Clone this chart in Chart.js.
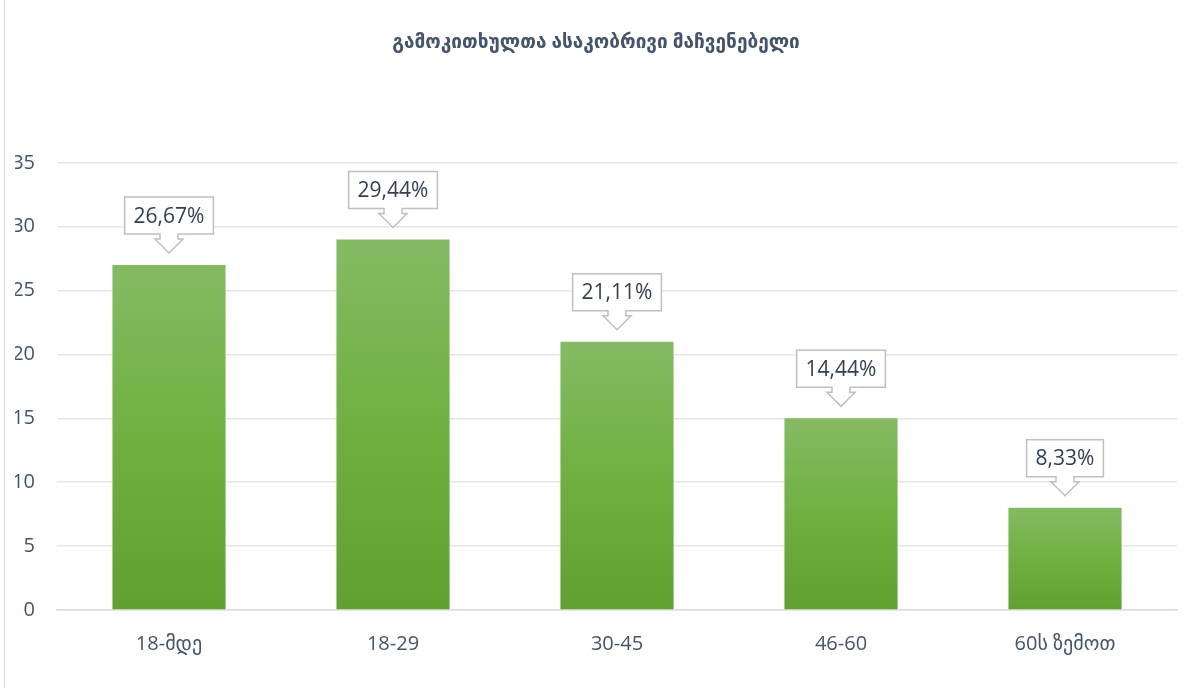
<!DOCTYPE html>
<html>
<head>
<meta charset="utf-8">
<script src="https://cdn.jsdelivr.net/npm/chart.js@4.4.1/dist/chart.umd.min.js"></script>
<style>
  html, body { margin: 0; padding: 0; background: #ffffff; }
</style>
</head>
<body>
<canvas id="ageChart" width="1203" height="688"></canvas>
<script>
const chartTitle = 'გამოკითხულთა ასაკობრივი მაჩვენებელი';
const ageGroups = ['18-მდე', '18-29', '30-45', '46-60', '60ს ზემოთ'];
const respondents = [27, 29, 21, 15, 8];
const shareLabels = ['26,67%', '29,44%', '21,11%', '14,44%', '8,33%'];
const yTicks = [0, 5, 10, 15, 20, 25, 30, 35];

const fontStack = "'Open Sans', 'DejaVu Sans', sans-serif";

// per-bar vertical gradient, light on top, darker at the base
function barGradient(context) {
    const chart = context.chart;
    const yScale = chart.scales.y;
    if (!chart.chartArea || !yScale) return '#70ad47';
    const top = yScale.getPixelForValue(context.raw);
    const base = yScale.getPixelForValue(0);
    const g = chart.ctx.createLinearGradient(0, top, 0, base);
    g.addColorStop(0, '#85ba63');
    g.addColorStop(0.5, '#70b041');
    g.addColorStop(1, '#60a030');
    return g;
}

const calloutPlugin = {
    id: 'callouts',
    afterDatasetsDraw(chart) {
        const ctx = chart.ctx;
        const meta = chart.getDatasetMeta(0);
        ctx.save();
        ctx.font = '21px ' + fontStack;
        meta.data.forEach((bar, i) => {
            const text = shareLabels[i];
            const x = bar.x;
            const boxBottom = bar.y - 31;
            const boxH = 37;
            const boxW = ctx.measureText(text).width + 18;
            const left = x - boxW / 2, right = x + boxW / 2, top = boxBottom - boxH;
            ctx.beginPath();
            ctx.moveTo(left, top);
            ctx.lineTo(right, top);
            ctx.lineTo(right, boxBottom);
            ctx.lineTo(x + 9, boxBottom);
            ctx.lineTo(x + 9, boxBottom + 5);
            ctx.lineTo(x + 14, boxBottom + 5);
            ctx.lineTo(x, boxBottom + 19);
            ctx.lineTo(x - 14, boxBottom + 5);
            ctx.lineTo(x - 9, boxBottom + 5);
            ctx.lineTo(x - 9, boxBottom);
            ctx.lineTo(left, boxBottom);
            ctx.closePath();
            ctx.fillStyle = '#ffffff';
            ctx.fill();
            ctx.lineWidth = 1.5;
            ctx.strokeStyle = '#bfbfbf';
            ctx.stroke();
            ctx.fillStyle = '#333f50';
            ctx.textAlign = 'center';
            ctx.textBaseline = 'middle';
            ctx.fillText(text, x, top + boxH / 2 + 1);
        });
        ctx.restore();
    },
    afterDraw(chart) {
        const ctx = chart.ctx;
        ctx.save();
        ctx.strokeStyle = '#d9d9d9';
        ctx.lineWidth = 1;
        ctx.beginPath();
        ctx.moveTo(4.5, 0);
        ctx.lineTo(4.5, chart.height);
        ctx.stroke();
        ctx.restore();
    }
};

new Chart(document.getElementById('ageChart'), {
    type: 'bar',
    data: {
        labels: ageGroups,
        datasets: [{
            label: chartTitle,
            data: respondents,
            backgroundColor: barGradient,
            borderWidth: 0,
            categoryPercentage: 1,
            barPercentage: 0.505
        }]
    },
    options: {
        responsive: false,
        animation: false,
        layout: { padding: { left: 15, right: 26, top: 0, bottom: 33 } },
        plugins: {
            legend: { display: false },
            tooltip: { enabled: false },
            title: {
                display: true,
                text: chartTitle,
                color: '#44546a',
                font: { family: fontStack, size: 19, weight: 'bold' },
                padding: { top: 31, bottom: 109 }
            }
        },
        scales: {
            x: {
                grid: { display: false },
                border: { color: '#d9dde3', width: 1.5 },
                afterFit(scale) { scale.height = 45; },
                ticks: {
                    color: '#44546a',
                    font: { family: fontStack, size: 20 },
                    padding: 14
                }
            },
            y: {
                min: 0,
                max: 35,
                afterBuildTicks(scale) {
                    scale.ticks = yTicks.map(v => ({ value: v }));
                },
                afterFit(scale) { scale.width = 42; },
                grid: { color: '#e3e6ea', lineWidth: 1.5, drawTicks: false },
                border: { display: false },
                ticks: {
                    color: '#44546a',
                    font: { family: fontStack, size: 20 },
                    padding: 22
                }
            }
        }
    },
    plugins: [calloutPlugin]
});
</script>
</body>
</html>
